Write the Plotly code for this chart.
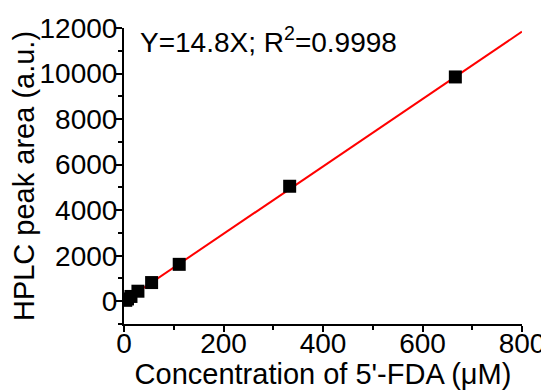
import plotly.graph_objects as go

# Data
concentration_uM = [3.5, 7, 14, 28, 55.5, 111, 333, 666]
peak_area = [40, 100, 210, 440, 820, 1620, 5050, 9850]
fit_slope = 14.8
fit_x = [0, 800]
fit_y = [fit_slope * x for x in fit_x]

FONT = "Liberation Sans, Arial, sans-serif"

fig = go.Figure()
fig.add_trace(go.Scatter(
    x=fit_x, y=fit_y, mode="lines",
    line=dict(color="#ff0000", width=2),
    showlegend=False, hoverinfo="skip"))
fig.add_trace(go.Scatter(
    x=concentration_uM, y=peak_area, mode="markers",
    marker=dict(symbol="square", size=13, color="black"),
    showlegend=False))

axis_common = dict(
    showline=True, linecolor="black", linewidth=2,
    ticks="outside", ticklen=6, tickwidth=2, tickcolor="black",
    showgrid=False, zeroline=False, automargin=False,
    tickformat="d",
    tickfont=dict(family=FONT, size=28, color="black"),
)

fig.update_xaxes(
    range=[0, 800], dtick=200, tick0=0,
    minor=dict(dtick=100, ticks="outside", ticklen=4, tickwidth=2, tickcolor="black"),
    ticklabelstandoff=-13,
    title=dict(text="Concentration of 5'-FDA (μM)",
               font=dict(family=FONT, size=29, color="black"), standoff=2),
    **axis_common)
fig.update_yaxes(
    range=[-1000, 12000], dtick=2000, tick0=0,
    minor=dict(dtick=1000, ticks="outside", ticklen=4, tickwidth=2, tickcolor="black"),
    ticklabelstandoff=-7,
    title=dict(text="HPLC peak area (a.u.)",
               font=dict(family=FONT, size=29, color="black"), standoff=6),
    **axis_common)

fig.add_annotation(
    text="Y=14.8X; R<sup>2</sup>=0.9998",
    xref="paper", yref="paper", x=0.035, y=1.0, xanchor="left", yanchor="middle",
    yshift=-12, showarrow=False,
    font=dict(family=FONT, size=28, color="black"))

# the page body has an 8px margin, so the figure is sized to fit inside the window
fig.update_layout(
    width=541, height=382,
    margin=dict(l=116, r=27, t=20, b=66),
    plot_bgcolor="white", paper_bgcolor="white",
)

fig.write_html("out.html")
